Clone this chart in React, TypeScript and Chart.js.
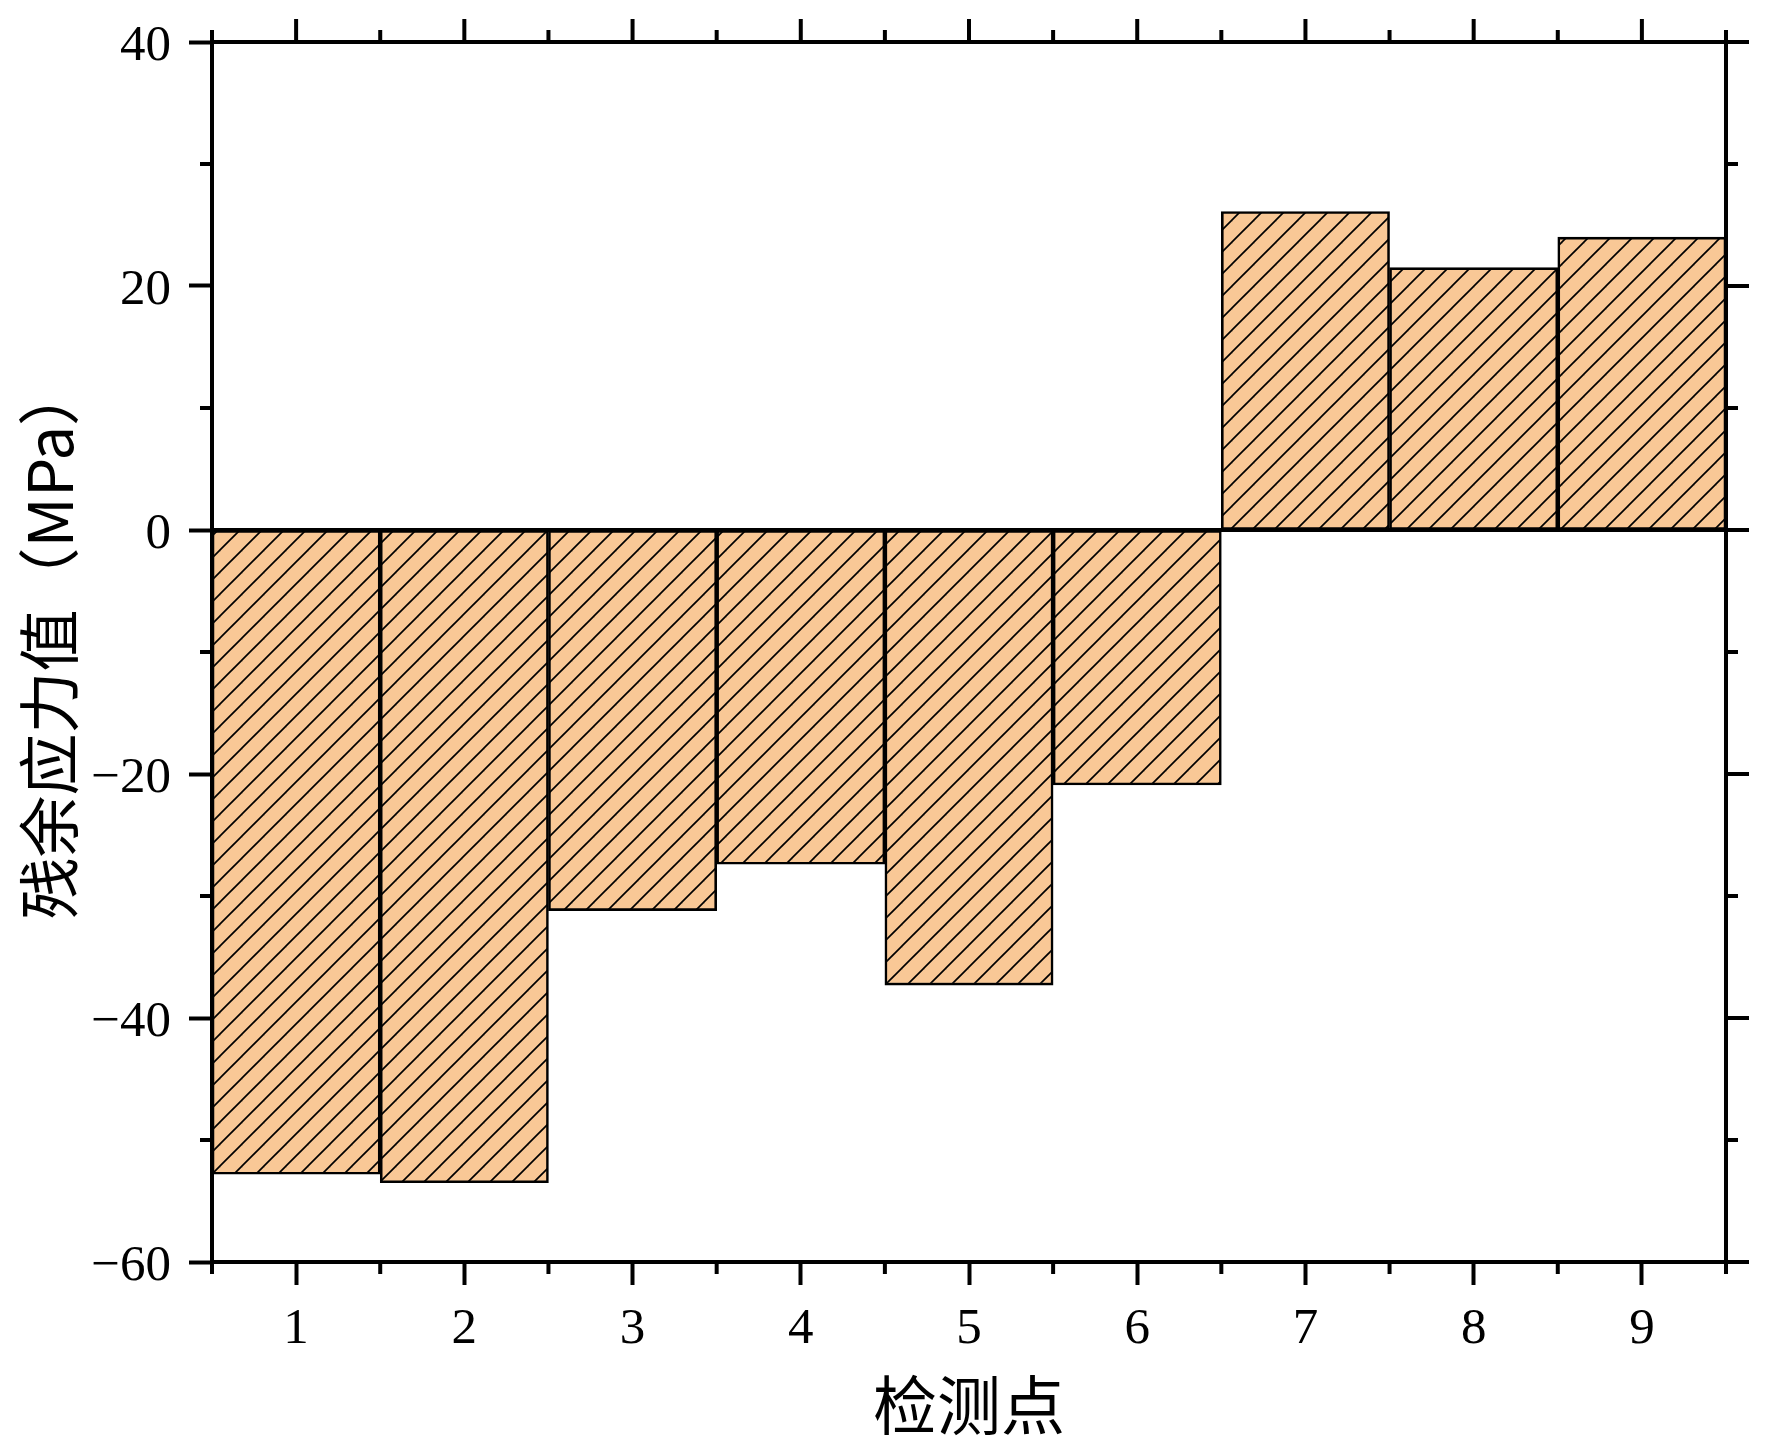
import React, { useEffect, useRef } from 'react';
import { Chart, registerables } from 'chart.js';

Chart.register(...registerables);

// ---- data ----
const categories = ['1', '2', '3', '4', '5', '6', '7', '8', '9'];
const stressValues = [-52.8, -53.5, -31.2, -27.4, -37.3, -20.9, 26.1, 21.5, 24.0];
const yMin = -60;
const yMax = 40;
const yStep = 20;
const yMinorStep = 10;
const xTitle = '检测点';
const yTitle = '\u2004残余应力值（MPa）';

// ---- style ----
const FILL = '#F9C896';
const AXIS_W = 4;
const MAJOR_LEN = 23;
const MINOR_LEN = 12;
const NUM_FONT = 'Liberation Serif';
const CJK_FONT = 'Noto Sans CJK SC';

function makeHatch(): CanvasPattern | string {
  const s = 22;
  const c = document.createElement('canvas');
  c.width = s;
  c.height = s;
  const g = c.getContext('2d');
  if (!g) return FILL;
  g.fillStyle = FILL;
  g.fillRect(0, 0, s, s);
  g.strokeStyle = '#000';
  g.lineWidth = 1.7;
  for (const off of [-s, 0, s]) {
    g.beginPath();
    g.moveTo(off - 1, s + 1);
    g.lineTo(off + s + 1, -1);
    g.stroke();
  }
  return g.createPattern(c, 'repeat') || FILL;
}

const framePlugin = {
  id: 'frame',
  afterDatasetsDraw(chart: any) {
    const { ctx, chartArea, scales } = chart;
    const { left, right, top, bottom } = chartArea;
    const x = scales.x;
    const y = scales.y;
    ctx.save();
    ctx.strokeStyle = '#000';
    ctx.lineCap = 'butt';

    const line = (x1: number, y1: number, x2: number, y2: number, w: number) => {
      ctx.lineWidth = w;
      ctx.beginPath();
      ctx.moveTo(x1, y1);
      ctx.lineTo(x2, y2);
      ctx.stroke();
    };

    // zero line
    const y0 = y.getPixelForValue(0);
    line(left, y0, right, y0, AXIS_W);

    // top and right axis lines
    line(left - AXIS_W / 2, top, right + AXIS_W / 2, top, AXIS_W);
    line(right, top, right, bottom, AXIS_W);

    // x ticks: majors at category centres (top), minors at boundaries (top & bottom)
    const n = categories.length;
    for (let i = 0; i < n; i++) {
      const px = x.getPixelForTick(i);
      line(px, top, px, top - MAJOR_LEN, AXIS_W);
    }
    const bounds: number[] = [left];
    for (let i = 0; i < n - 1; i++) {
      bounds.push((x.getPixelForTick(i) + x.getPixelForTick(i + 1)) / 2);
    }
    bounds.push(right);
    for (const bx of bounds) {
      line(bx, top, bx, top - MINOR_LEN, AXIS_W);
      line(bx, bottom, bx, bottom + MINOR_LEN, AXIS_W);
    }

    // y ticks: majors on right, minors on left & right
    for (let v = yMin; v <= yMax + 1e-9; v += yStep) {
      const py = y.getPixelForValue(v);
      line(right, py, right + MAJOR_LEN, py, AXIS_W);
    }
    for (let v = yMin + yMinorStep; v < yMax; v += yStep) {
      const py = y.getPixelForValue(v);
      line(left, py, left - MINOR_LEN, py, AXIS_W);
      line(right, py, right + MINOR_LEN, py, AXIS_W);
    }
    ctx.restore();
  },
};

export default function App() {
  const ref = useRef<HTMLCanvasElement | null>(null);

  useEffect(() => {
    document.body.style.margin = '0';
    const canvas = ref.current;
    if (!canvas) return;
    const pattern = makeHatch();

    const chart = new Chart(canvas, {
      type: 'bar',
      data: {
        labels: categories,
        datasets: [
          {
            data: stressValues,
            backgroundColor: pattern as any,
            borderColor: '#000',
            borderWidth: 2.6,
            borderSkipped: false,
            barPercentage: 1,
            categoryPercentage: 1,
          },
        ],
      },
      options: {
        responsive: false,
        animation: false,
        devicePixelRatio: 1,
        layout: { padding: { top: 42, right: 46, left: 0, bottom: 0 } },
        plugins: {
          legend: { display: false },
          tooltip: { enabled: false },
        },
        scales: {
          x: {
            type: 'category',
            offset: true,
            grid: {
              display: true,
              drawOnChartArea: false,
              drawTicks: true,
              tickLength: MAJOR_LEN,
              tickWidth: AXIS_W,
              tickColor: '#000',
              offset: false,
            },
            border: { display: true, color: '#000', width: AXIS_W },
            ticks: {
              color: '#000',
              font: { family: NUM_FONT, size: 51 },
              padding: 14,
              maxRotation: 0,
              autoSkip: false,
            },
            title: {
              display: true,
              text: xTitle,
              color: '#000',
              font: { family: CJK_FONT, size: 64 },
              padding: { top: 0, bottom: 9 },
            },
            afterFit: (s: any) => {
              s.height = 190;
              s.paddingLeft = 0;
              s.paddingRight = 0;
            },
          },
          y: {
            min: yMin,
            max: yMax,
            grid: {
              display: true,
              drawOnChartArea: false,
              drawTicks: true,
              tickLength: MAJOR_LEN,
              tickWidth: AXIS_W,
              tickColor: '#000',
            },
            border: { display: true, color: '#000', width: AXIS_W },
            ticks: {
              stepSize: yStep,
              color: '#000',
              font: { family: NUM_FONT, size: 51 },
              padding: 18,
              labelOffset: 5,
              callback: (v: any) => String(v).replace('-', '\u2212'),
            },
            title: {
              display: true,
              text: yTitle,
              color: '#000',
              font: { family: CJK_FONT, size: 62 },
              padding: { top: 12, bottom: 0 },
            },
            afterFit: (s: any) => {
              s.width = 212;
              s.paddingTop = 0;
              s.paddingBottom = 0;
            },
          },
        },
      },
      plugins: [framePlugin],
    });
    return () => chart.destroy();
  }, []);

  return (
    <div style={{ position: 'absolute', left: 0, top: 0, width: 1772, height: 1452, background: '#fff' }}>
      <canvas ref={ref} width={1772} height={1452} style={{ width: 1772, height: 1452, display: 'block' }} />
    </div>
  );
}
